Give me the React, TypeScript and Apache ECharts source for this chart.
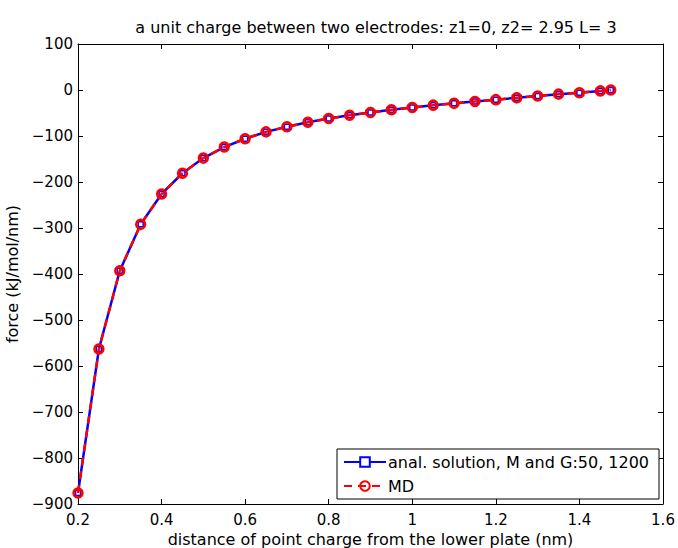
import React, { useEffect, useRef } from "react";
import * as echarts from "echarts";

const xValues = [0.2, 0.25, 0.3, 0.35, 0.4, 0.45, 0.5, 0.55, 0.6, 0.65, 0.7, 0.75, 0.8, 0.85, 0.9, 0.95, 1.0, 1.05, 1.1, 1.15, 1.2, 1.25, 1.3, 1.35, 1.4, 1.45, 1.475];
const analValues = [-876, -563, -393, -292, -226, -181, -148, -124, -106, -91, -80, -70, -62, -55, -49, -43, -38, -33, -29, -25, -21, -17, -13, -9, -6, -2, 0];
const mdValues = [-876, -563, -393, -292, -226, -181, -148, -124, -106, -91, -80, -70, -62, -55, -49, -43, -38, -33, -29, -25, -21, -17, -13, -9, -6, -2, 0];
const seriesNames = ["anal. solution, M and G:50, 1200", "MD"];
const titleText = "a unit charge between two electrodes: z1=0, z2= 2.95 L= 3";
const xAxisName = "distance of point charge from the lower plate (nm)";
const yAxisName = "force (kJ/mol/nm)";

const FONT = "DejaVu Sans, Verdana, sans-serif";

export default function App() {
  const ref = useRef<HTMLDivElement>(null);
  useEffect(() => {
    if (!ref.current) return;
    const chart = echarts.init(ref.current, undefined, { renderer: "svg" });
    const axisCommon = {
      axisLine: { show: true, onZero: false, lineStyle: { color: "#000", width: 1 } },
      axisTick: { show: true, inside: true, length: 5, lineStyle: { color: "#000" } },
      splitLine: { show: false },
    };
    chart.setOption({
      animation: false,
      backgroundColor: "#fff",
      textStyle: { fontFamily: FONT },
      title: {
        text: titleText,
        left: 371,
        textAlign: "center",
        top: 14,
        textStyle: { fontSize: 16, fontWeight: "normal", color: "#000", fontFamily: FONT },
      },
      grid: { left: 78, right: 15, top: 44, bottom: 44, containLabel: false, outerBoundsMode: "none" },
      legend: {
        left: 337,
        top: 449,
        orient: "vertical",
        align: "left",
        itemGap: 8,
        itemWidth: 42,
        itemHeight: 12,
        padding: [5, 10, 5, 6],
        borderColor: "#000",
        borderWidth: 1,
        borderRadius: 0,
        backgroundColor: "#fff",
        textStyle: { fontSize: 16, color: "#000", fontFamily: FONT, padding: [0, 0, 0, -3] },
        data: seriesNames,
      },
      xAxis: [
        {
          type: "value",
          min: 0.2,
          max: 1.6,
          interval: 0.2,
          position: "bottom",
          ...axisCommon,
          axisLabel: {
            color: "#000",
            fontSize: 15,
            margin: 8,
            fontFamily: FONT,
            formatter: (v: number) => String(Math.round(v * 10) / 10),
          },
          name: xAxisName,
          nameLocation: "middle",
          nameGap: 21,
          nameTextStyle: { fontSize: 16, lineHeight: 16, color: "#000", fontFamily: FONT },
        },
        {
          type: "value",
          min: 0.2,
          max: 1.6,
          interval: 0.2,
          position: "top",
          ...axisCommon,
          axisLabel: { show: false },
        },
      ],
      yAxis: [
        {
          type: "value",
          min: -900,
          max: 100,
          interval: 100,
          position: "left",
          ...axisCommon,
          axisLabel: {
            color: "#000",
            fontSize: 15,
            margin: 5,
            fontFamily: FONT,
            formatter: (v: number) => (v < 0 ? "\u2212" + Math.abs(v) : String(v)),
          },
          name: yAxisName,
          nameLocation: "middle",
          nameGap: 51,
          nameRotate: 90,
          nameTextStyle: { fontSize: 16, color: "#000", fontFamily: FONT },
        },
        {
          type: "value",
          min: -900,
          max: 100,
          interval: 100,
          position: "right",
          ...axisCommon,
          axisLabel: { show: false },
        },
      ],
      series: [
        {
          name: seriesNames[0],
          type: "line",
          data: xValues.map((x, i) => [x, analValues[i]]),
          symbol: "rect",
          symbolSize: 5,
          showAllSymbol: true,
          lineStyle: { color: "#0000ff", width: 2.5 },
          itemStyle: { color: "#ffffff", borderColor: "#0000ff", borderWidth: 1.5 },
          z: 2,
        },
        {
          name: seriesNames[1],
          type: "line",
          data: xValues.map((x, i) => [x, mdValues[i]]),
          symbol: "circle",
          symbolSize: 9,
          showAllSymbol: true,
          lineStyle: { color: "#ff0000", width: 2.5, type: [8, 6] },
          itemStyle: { color: "transparent", borderColor: "#ff0000", borderWidth: 2.5 },
          z: 3,
        },
      ],
    });
    return () => chart.dispose();
  }, []);
  return <div ref={ref} style={{ width: 678, height: 548, position: "absolute", left: 0, top: 0 }} />;
}
